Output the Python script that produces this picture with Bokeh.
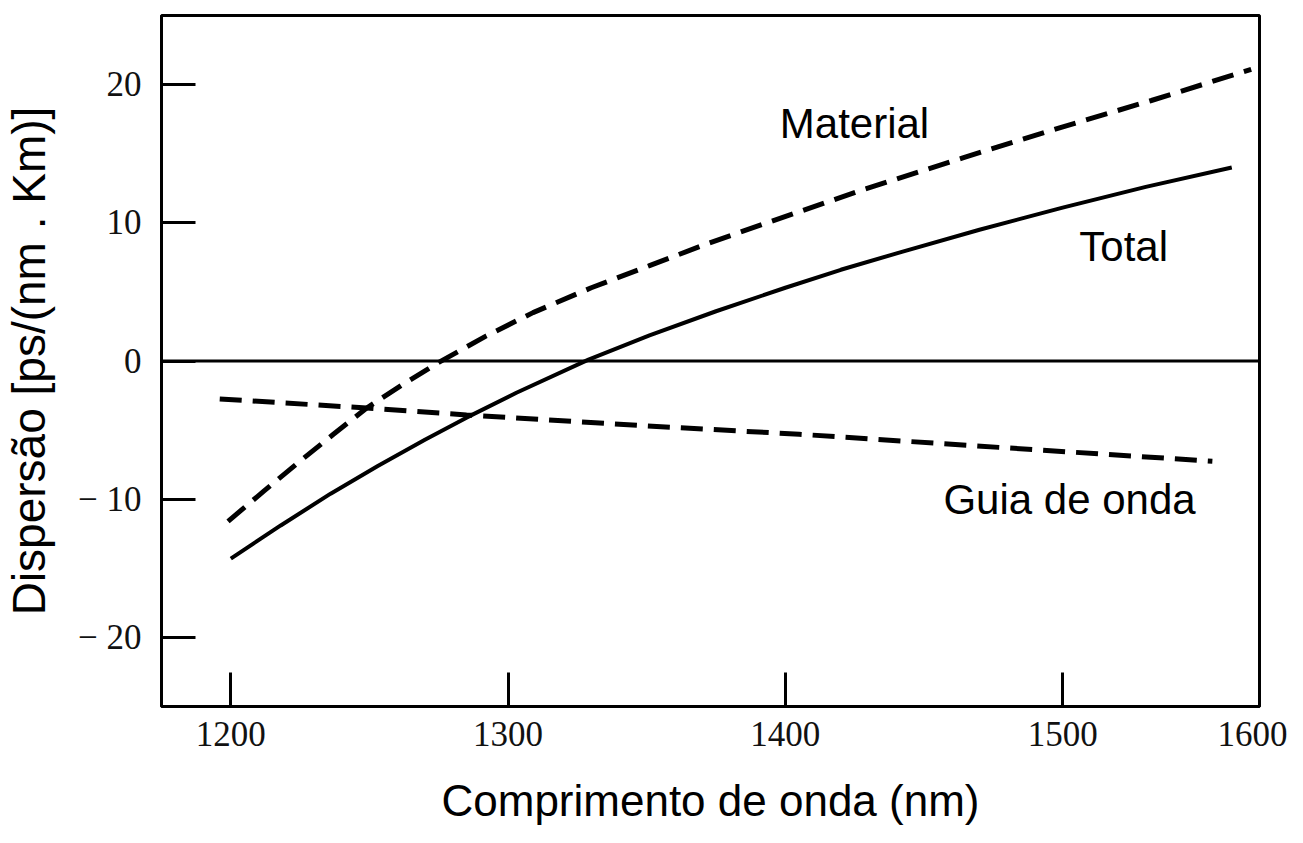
from bokeh.plotting import figure
from bokeh.models import Span, Label, FixedTicker, Range1d
from bokeh.embed import file_html
from bokeh.resources import INLINE

# Wavelength (nm) and dispersion values [ps/(nm.km)]
wl_material = [1199, 1212, 1224, 1237, 1249, 1262, 1275, 1292, 1309, 1330, 1351,
               1372, 1392, 1428, 1464, 1501, 1532, 1568]
material = [-11.6, -9.4, -7.4, -5.3, -3.4, -1.7, -0.1, 1.8, 3.5, 5.3, 6.9,
            8.5, 9.9, 12.4, 14.7, 17.0, 18.85, 21.1]

wl_total = [1200, 1218, 1236, 1253, 1270, 1285, 1303, 1329, 1351, 1375, 1400,
            1420, 1442, 1470, 1500, 1530, 1561]
total = [-14.3, -11.9, -9.6, -7.6, -5.7, -4.1, -2.3, 0.1, 1.85, 3.6, 5.3,
         6.6, 7.9, 9.5, 11.1, 12.6, 14.0]

wl_guia = [1196, 1249, 1285, 1350, 1405, 1477, 1554]
guia = [-2.75, -3.4, -3.9, -4.7, -5.3, -6.25, -7.25]

x_ticks = [1200, 1300, 1400, 1500, 1571]
x_tick_labels = ["1200", "1300", "1400", "1500", "1600"]
y_ticks = [-20, -10, 0, 10, 20]
y_tick_labels = ["\u2212 20", "\u2212 10", "0", "10", "20"]

p = figure(width=1287, height=827,
           x_range=Range1d(1175, 1571), y_range=Range1d(-25, 25),
           output_backend="svg", toolbar_location=None,
           min_border_left=154, min_border_top=15,
           min_border_right=28, min_border_bottom=121)

p.background_fill_color = "white"
p.border_fill_color = "white"
p.outline_line_color = "black"
p.outline_line_width = 3
p.grid.visible = False

for ax in (p.xaxis[0], p.yaxis[0]):
    ax.axis_line_color = "black"
    ax.axis_line_width = 3
    ax.major_tick_in = 34
    ax.major_tick_out = 0
    ax.major_tick_line_width = 3
    ax.major_tick_line_color = "black"
    ax.minor_tick_line_color = None
    ax.major_label_text_font = "Liberation Serif"
    ax.major_label_text_font_size = "35px"
    ax.major_label_text_color = "#111111"
    ax.axis_label_text_font = "Liberation Sans"
    ax.axis_label_text_font_style = "normal"
    ax.axis_label_text_color = "black"

p.xaxis.axis_label_text_font_size = "44px"
p.yaxis.axis_label_text_font_size = "46px"
p.xaxis.ticker = FixedTicker(ticks=x_ticks)
p.xaxis.major_label_overrides = dict(zip(x_ticks, x_tick_labels))
p.yaxis.ticker = FixedTicker(ticks=y_ticks)
p.yaxis.major_label_overrides = dict(zip(y_ticks, y_tick_labels))
p.xaxis.major_label_standoff = 15
p.yaxis.major_label_standoff = 20
p.xaxis.axis_label = "Comprimento de onda (nm)"
p.yaxis.axis_label = "Dispersão [ps/(nm . Km)]"
p.xaxis.axis_label_standoff = 27
p.yaxis.axis_label_standoff = 20

p.add_layout(Span(location=0, dimension="width", line_color="black", line_width=3))

p.line(wl_material, material, line_color="black", line_width=5, line_dash="22 11")
p.line(wl_total, total, line_color="black", line_width=4)
p.line(wl_guia, guia, line_color="black", line_width=5, line_dash="22 11")

for txt, x, y in [("Material", 1398, 17.2), ("Total", 1506, 8.3), ("Guia de onda", 1457, -10.0)]:
    p.add_layout(Label(x=x, y=y, text=txt, text_font="Liberation Sans",
                       text_font_size="42px", text_color="black",
                       text_align="left", text_baseline="middle"))

open("out.html", "w").write(file_html(p, INLINE))
